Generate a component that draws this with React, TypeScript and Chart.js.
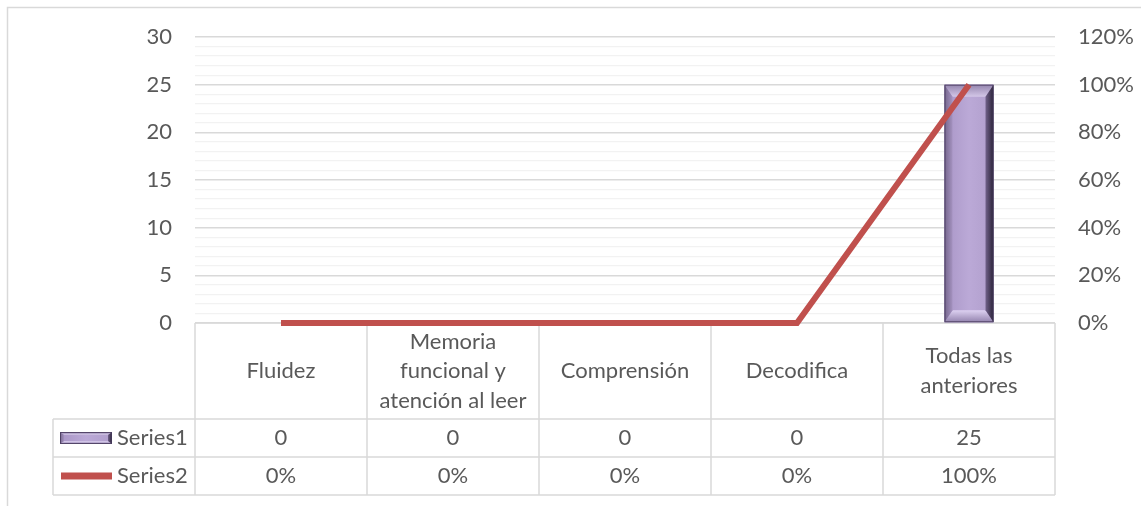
import { useEffect, useRef } from "react";
import { Chart, registerables } from "chart.js";

Chart.register(...registerables);

// ---------- data ----------
const categories: string[][] = [
  ["Fluidez"],
  ["Memoria", "funcional y", "atención al leer"],
  ["Comprensión"],
  ["Decodifica"],
  ["Todas las", "anteriores"],
];
const series1Name = "Series1";
const series2Name = "Series2";
const series1Values = [0, 0, 0, 0, 25];
const series2Values = [0, 0, 0, 0, 1];
const leftMin = 0;
const leftMax = 30;
const leftMajorStep = 5;
const rightMin = 0;
const rightMax = 1.2;
const rightStep = 0.2;

// ---------- layout / style ----------
const W = 1141;
const H = 506;
const PLOT_LEFT = 195;
const PLOT_RIGHT = 1055;
const PLOT_TOP = 37;
const PLOT_BOTTOM = 323;
const ROW_CAT_BOTTOM = 419;
const ROW1_BOTTOM = 457;
const ROW2_BOTTOM = 495;
const LEGEND_LEFT = 53;
const FONT_FAMILY = "Lato";
const FONT_SIZE = 22;
const LINE_HEIGHT = 29.5;
const TEXT_COLOR = "#595959";
const TABLE_LINE = "#d9d9d9";
const GRID_MAJOR = "#d9d9d9";
const GRID_MINOR = "#f2f2f2";
const RED = "#C0504D";
const FACE = "#BBA9D7";

const pct = (v: number) => `${Math.round(v * 100)}%`;

function drawBevel(
  ctx: CanvasRenderingContext2D,
  x0: number,
  y0: number,
  x1: number,
  y1: number,
  bh: number,
  bv: number
) {
  const face = ctx.createLinearGradient(x0, 0, x1, 0);
  face.addColorStop(0, "#A996C6");
  face.addColorStop(0.5, FACE);
  face.addColorStop(1, "#B09ECC");
  ctx.fillStyle = face;
  ctx.fillRect(x0, y0, x1 - x0, y1 - y0);

  let g = ctx.createLinearGradient(0, y0, 0, y0 + bv);
  g.addColorStop(0, "#9485AE");
  g.addColorStop(1, "#D3C6E7");
  ctx.fillStyle = g;
  ctx.beginPath();
  ctx.moveTo(x0, y0);
  ctx.lineTo(x1, y0);
  ctx.lineTo(x1 - bh, y0 + bv);
  ctx.lineTo(x0 + bh, y0 + bv);
  ctx.closePath();
  ctx.fill();

  g = ctx.createLinearGradient(0, y1 - bv, 0, y1);
  g.addColorStop(0, "#DDD1F1");
  g.addColorStop(1, "#9282AD");
  ctx.fillStyle = g;
  ctx.beginPath();
  ctx.moveTo(x0, y1);
  ctx.lineTo(x1, y1);
  ctx.lineTo(x1 - bh, y1 - bv);
  ctx.lineTo(x0 + bh, y1 - bv);
  ctx.closePath();
  ctx.fill();

  g = ctx.createLinearGradient(x0, 0, x0 + bh, 0);
  g.addColorStop(0, "#75668D");
  g.addColorStop(1, "#A492BF");
  ctx.fillStyle = g;
  ctx.beginPath();
  ctx.moveTo(x0, y0);
  ctx.lineTo(x0 + bh, y0 + bv);
  ctx.lineTo(x0 + bh, y1 - bv);
  ctx.lineTo(x0, y1);
  ctx.closePath();
  ctx.fill();

  g = ctx.createLinearGradient(x1 - bh, 0, x1, 0);
  g.addColorStop(0, "#706189");
  g.addColorStop(1, "#2A2238");
  ctx.fillStyle = g;
  ctx.beginPath();
  ctx.moveTo(x1, y0);
  ctx.lineTo(x1 - bh, y0 + bv);
  ctx.lineTo(x1 - bh, y1 - bv);
  ctx.lineTo(x1, y1);
  ctx.closePath();
  ctx.fill();

  ctx.strokeStyle = "rgba(70,58,92,0.85)";
  ctx.lineWidth = 1;
  ctx.strokeRect(x0 + 0.5, y0 + 0.5, x1 - x0 - 1, y1 - y0 - 1);
}

const tablePlugin = {
  id: "dataTable",
  beforeDraw(chart: any) {
    const ctx: CanvasRenderingContext2D = chart.ctx;
    ctx.save();
    ctx.fillStyle = "#ffffff";
    ctx.fillRect(0, 0, W, H);
    ctx.strokeStyle = "#d9d9d9";
    ctx.lineWidth = 1.5;
    ctx.beginPath();
    ctx.moveTo(7.5, H);
    ctx.lineTo(7.5, 7.5);
    ctx.lineTo(W, 7.5);
    ctx.stroke();
    ctx.restore();
  },
  beforeDatasetsDraw(chart: any) {
    const ctx: CanvasRenderingContext2D = chart.ctx;
    const x = chart.scales.x;
    const n = categories.length;
    const half = (x.getPixelForValue(1) - x.getPixelForValue(0)) / 2;
    const left = x.getPixelForValue(0) - half;
    const right = x.getPixelForValue(n - 1) + half;
    const top = chart.chartArea.bottom;
    ctx.save();
    ctx.strokeStyle = TABLE_LINE;
    ctx.lineWidth = 1.5;
    ctx.beginPath();
    ctx.moveTo(left, top);
    ctx.lineTo(right, top);
    for (const yy of [ROW_CAT_BOTTOM, ROW1_BOTTOM, ROW2_BOTTOM]) {
      ctx.moveTo(LEGEND_LEFT, yy);
      ctx.lineTo(right, yy);
    }
    ctx.moveTo(LEGEND_LEFT, ROW_CAT_BOTTOM);
    ctx.lineTo(LEGEND_LEFT, ROW2_BOTTOM);
    for (let i = 0; i <= n; i++) {
      const bx = i === n ? right : x.getPixelForValue(i) - half;
      ctx.moveTo(bx, top);
      ctx.lineTo(bx, ROW2_BOTTOM);
    }
    ctx.stroke();
    ctx.restore();
  },
  afterDatasetDraw(chart: any, args: any) {
    if (args.index !== 0) return;
    const ctx: CanvasRenderingContext2D = chart.ctx;
    const meta = chart.getDatasetMeta(0);
    ctx.save();
    meta.data.forEach((bar: any, i: number) => {
      if (!series1Values[i]) return;
      const x0 = bar.x - bar.width / 2;
      const x1 = bar.x + bar.width / 2;
      drawBevel(ctx, x0, bar.y, x1, bar.base, 8, 12);
    });
    ctx.restore();
  },
  afterDraw(chart: any) {
    const ctx: CanvasRenderingContext2D = chart.ctx;
    const x = chart.scales.x;
    const top = chart.chartArea.bottom;
    ctx.save();
    ctx.font = `${FONT_SIZE}px ${FONT_FAMILY}`;
    ctx.fillStyle = TEXT_COLOR;
    ctx.textAlign = "center";
    ctx.textBaseline = "middle";
    const catMid = (top + ROW_CAT_BOTTOM) / 2;
    const r1Mid = (ROW_CAT_BOTTOM + ROW1_BOTTOM) / 2;
    const r2Mid = (ROW1_BOTTOM + ROW2_BOTTOM) / 2;
    categories.forEach((lines, i) => {
      const cx = x.getPixelForValue(i);
      const start = catMid - ((lines.length - 1) * LINE_HEIGHT) / 2;
      lines.forEach((ln, j) => ctx.fillText(ln, cx, start + j * LINE_HEIGHT));
      ctx.fillText(String(series1Values[i]), cx, r1Mid);
      ctx.fillText(pct(series2Values[i]), cx, r2Mid);
    });
    drawBevel(ctx, 60, r1Mid - 6, 112, r1Mid + 6, 4, 3);
    ctx.fillStyle = RED;
    ctx.fillRect(61, r2Mid - 3.5, 51, 7);
    ctx.fillStyle = TEXT_COLOR;
    ctx.textAlign = "left";
    ctx.fillText(series1Name, 117, r1Mid);
    ctx.fillText(series2Name, 117, r2Mid);
    ctx.restore();
  },
};

export default function App() {
  const ref = useRef<HTMLCanvasElement | null>(null);
  useEffect(() => {
    if (!ref.current) return;
    const chart = new Chart(ref.current, {
      type: "bar",
      data: {
        labels: categories,
        datasets: [
          {
            type: "bar",
            label: series1Name,
            data: series1Values,
            backgroundColor: FACE,
            yAxisID: "y",
            order: 1,
            categoryPercentage: 1,
            barPercentage: 0.285,
          },
          {
            type: "line",
            label: series2Name,
            data: series2Values,
            borderColor: RED,
            backgroundColor: RED,
            borderWidth: 6,
            pointRadius: 0,
            tension: 0,
            yAxisID: "y1",
            order: 0,
            clip: false as any,
          },
        ],
      },
      options: {
        responsive: false,
        animation: false,
        devicePixelRatio: 1,
        layout: {
          padding: { left: 0, right: 0, top: PLOT_TOP, bottom: H - PLOT_BOTTOM },
        },
        plugins: {
          legend: { display: false },
          tooltip: { enabled: false },
        },
        scales: {
          x: { display: false, offset: true },
          y: {
            position: "left",
            min: leftMin,
            max: leftMax,
            border: { display: false },
            grid: {
              drawTicks: false,
              color: (c: any) =>
                c.tick && c.tick.value % leftMajorStep === 0 ? GRID_MAJOR : GRID_MINOR,
              lineWidth: (c: any) =>
                c.tick && c.tick.value % leftMajorStep === 0 ? 1.5 : 1.2,
            },
            ticks: {
              stepSize: 1,
              autoSkip: false,
              padding: 23,
              color: TEXT_COLOR,
              font: { family: FONT_FAMILY, size: FONT_SIZE },
              callback: (v: any) => (Number(v) % leftMajorStep === 0 ? String(v) : ""),
            },
            afterFit: (s: any) => {
              s.width = PLOT_LEFT;
            },
          },
          y1: {
            position: "right",
            min: rightMin,
            max: rightMax,
            border: { display: false },
            grid: { drawOnChartArea: false, drawTicks: false },
            ticks: {
              stepSize: rightStep,
              autoSkip: false,
              padding: 23,
              color: TEXT_COLOR,
              font: { family: FONT_FAMILY, size: FONT_SIZE },
              callback: (v: any) => pct(Number(v)),
            },
            afterFit: (s: any) => {
              s.width = W - PLOT_RIGHT;
            },
          },
        },
      },
      plugins: [tablePlugin],
    });
    return () => chart.destroy();
  }, []);
  return (
    <div style={{ position: "fixed", left: 0, top: 0, width: W, height: H }}>
      <canvas ref={ref} width={W} height={H} style={{ display: "block" }} />
    </div>
  );
}
